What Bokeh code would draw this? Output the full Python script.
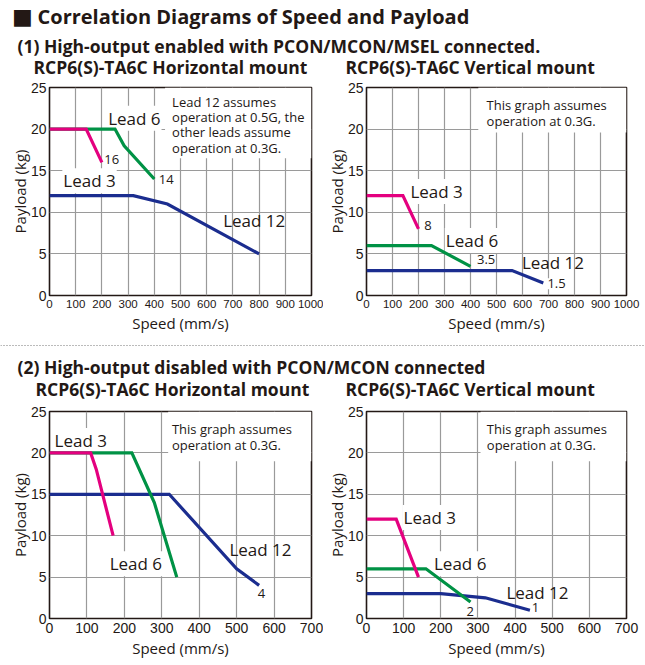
from bokeh.plotting import figure
from bokeh.layouts import column, row
from bokeh.models import Range1d, FixedTicker, Label, Span, BoxAnnotation
from bokeh.core.properties import value
from bokeh.embed import file_html
from bokeh.resources import INLINE

# ---------------- data ----------------
payload_ticks = [0, 5, 10, 15, 20, 25]
speed_ticks_hi = [0, 100, 200, 300, 400, 500, 600, 700, 800, 900, 1000]
speed_ticks_lo = [0, 100, 200, 300, 400, 500, 600, 700]

# (1) High-output enabled, horizontal mount
h1_lead3_speed = [0, 140, 200]
h1_lead3_payload = [20, 20, 16]
h1_lead6_speed = [0, 250, 285, 400]
h1_lead6_payload = [20, 20, 18, 14]
h1_lead12_speed = [0, 320, 450, 800]
h1_lead12_payload = [12, 12, 11, 5]

# (1) High-output enabled, vertical mount
v1_lead3_speed = [0, 140, 200]
v1_lead3_payload = [12, 12, 8]
v1_lead6_speed = [0, 250, 400]
v1_lead6_payload = [6, 6, 3.5]
v1_lead12_speed = [0, 560, 680]
v1_lead12_payload = [3, 3, 1.5]

# (2) High-output disabled, horizontal mount
h2_lead3_speed = [0, 110, 125, 170]
h2_lead3_payload = [20, 20, 18, 10]
h2_lead6_speed = [0, 220, 280, 340]
h2_lead6_payload = [20, 20, 14, 5]
h2_lead12_speed = [0, 320, 500, 560]
h2_lead12_payload = [15, 15, 6, 4]

# (2) High-output disabled, vertical mount
v2_lead3_speed = [0, 80, 140]
v2_lead3_payload = [12, 12, 5]
v2_lead6_speed = [0, 160, 280]
v2_lead6_payload = [6, 6, 2]
v2_lead12_speed = [0, 200, 320, 440]
v2_lead12_payload = [3, 3, 2.5, 1]

# ---------------- style ----------------
PINK = "#E4007F"
GREEN = "#009245"
BLUE = "#1B2D8F"
INK = "#231815"
GRID = "#9a9a9a"
FONT = "Open Sans"
TICK_FONT = "Liberation Sans"


def make_chart(width, height, borders, xmax, xticks, xtick_size, series, labels,
               note_lines, note_x, note_box):
    left, right, top, bottom = borders
    p = figure(width=width, height=height, x_range=Range1d(0, xmax), y_range=Range1d(0, 25),
               toolbar_location=None, output_backend="svg",
               min_border_left=left, min_border_right=right,
               min_border_top=top, min_border_bottom=bottom)
    p.outline_line_color = INK
    p.outline_line_width = 1.6
    p.xaxis.ticker = FixedTicker(ticks=xticks)
    p.yaxis.ticker = FixedTicker(ticks=payload_ticks)
    for ax in (p.xaxis, p.yaxis):
        ax.axis_line_color = None
        ax.major_tick_line_color = None
        ax.minor_tick_line_color = None
        ax.major_tick_out = 0
        ax.major_tick_in = 0
        ax.minor_tick_out = 0
        ax.minor_tick_in = 0
        ax.major_label_text_font = TICK_FONT
        ax.major_label_text_color = INK
        ax.axis_label_text_font = FONT
        ax.axis_label_text_font_size = "15px"
        ax.axis_label_text_font_style = "normal"
        ax.axis_label_text_color = INK
    p.xaxis.major_label_text_font_size = xtick_size
    p.yaxis.major_label_text_font_size = "14px"
    p.xaxis.axis_label = "Speed (mm/s)"
    p.yaxis.axis_label = "Payload (kg)"
    p.xaxis.major_label_standoff = 4
    p.yaxis.major_label_standoff = 3
    p.xaxis.axis_label_standoff = 2
    p.yaxis.axis_label_standoff = -2
    p.grid.grid_line_color = GRID
    p.grid.grid_line_width = 1.2
    p.xgrid.ticker = FixedTicker(ticks=xticks)
    p.ygrid.ticker = FixedTicker(ticks=payload_ticks)

    # white box behind the note (hides the grid only)
    p.add_layout(BoxAnnotation(left=note_box[0], bottom=note_box[1], right=xmax, top=25,
                               fill_color="white", fill_alpha=1.0, line_color=None,
                               level="underlay"))
    for (x, y, t, size, bg, align) in labels:
        p.add_layout(Label(x=x, y=y, text=t, text_font=FONT, text_font_size=size,
                           text_color=INK, text_align=align, text_baseline="middle",
                           background_fill_color=("white" if bg else None),
                           padding=1, level="underlay"))

    for xs, ys, col in series:
        p.line(xs, ys, line_color=col, line_width=3.2, line_join="miter")

    for (y, t) in note_lines:
        p.add_layout(Label(x=note_x, y=y, text=t, text_font=FONT, text_font_size="13px",
                           text_color=INK, text_align="left", text_baseline="alphabetic"))
    return p


BIG = "17px"
SMALL = "13px"
TOP_W_L, TOP_W_R = 323, 322
B_LEFT = (49, 12)
B_RIGHT = (37, 19)

fA = make_chart(TOP_W_L, 259, B_LEFT + (9, 42), 1000, speed_ticks_hi, "11.5px",
                [(h1_lead12_speed, h1_lead12_payload, BLUE),
                 (h1_lead6_speed, h1_lead6_payload, GREEN),
                 (h1_lead3_speed, h1_lead3_payload, PINK)],
                [(220, 21.3, "Lead 6", BIG, True, "left"),
                 (205, 16.3, "16", SMALL, True, "left"),
                 (413, 13.9, "14", SMALL, True, "left"),
                 (49, 13.8, "Lead 3", BIG, True, "left"),
                 (659, 9.0, "Lead 12", BIG, False, "left")],
                [(23.2, "Lead 12 assumes"), (21.4, "operation at 0.5G, the"),
                 (19.6, "other leads assume"), (17.75, "operation at 0.3G.")],
                468, (441, 16.5))

fB = make_chart(TOP_W_R, 259, B_RIGHT + (9, 42), 1000, speed_ticks_hi, "11.5px",
                [(v1_lead12_speed, v1_lead12_payload, BLUE),
                 (v1_lead6_speed, v1_lead6_payload, GREEN),
                 (v1_lead3_speed, v1_lead3_payload, PINK)],
                [(165, 12.5, "Lead 3", BIG, True, "left"),
                 (218, 8.4, "8", SMALL, True, "left"),
                 (301, 6.6, "Lead 6", BIG, True, "left"),
                 (421, 4.3, "3.5", SMALL, False, "left"),
                 (594, 4.0, "Lead 12", BIG, False, "left"),
                 (692, 1.4, "1.5", SMALL, True, "left")],
                [(22.9, "This graph assumes"), (21.0, "operation at 0.3G.")],
                462, (430, 19.6))

fC = make_chart(TOP_W_L, 265, B_LEFT + (11, 47), 700, speed_ticks_lo, "14px",
                [(h2_lead12_speed, h2_lead12_payload, BLUE),
                 (h2_lead6_speed, h2_lead6_payload, GREEN),
                 (h2_lead3_speed, h2_lead3_payload, PINK)],
                [(11, 21.5, "Lead 3", BIG, True, "left"),
                 (158, 6.6, "Lead 6", BIG, True, "left"),
                 (478, 8.3, "Lead 12", BIG, False, "left"),
                 (566, 3.0, "4", SMALL, True, "center")],
                [(22.85, "This graph assumes"), (21.0, "operation at 0.3G.")],
                327, (317, 19.0))

fD = make_chart(TOP_W_R, 265, B_RIGHT + (11, 47), 700, speed_ticks_lo, "14px",
                [(v2_lead12_speed, v2_lead12_payload, BLUE),
                 (v2_lead6_speed, v2_lead6_payload, GREEN),
                 (v2_lead3_speed, v2_lead3_payload, PINK)],
                [(97, 12.2, "Lead 3", BIG, True, "left"),
                 (179, 6.6, "Lead 6", BIG, True, "left"),
                 (374, 3.2, "Lead 12", BIG, False, "left"),
                 (279, 0.9, "2", SMALL, True, "center"),
                 (455, 1.3, "1", SMALL, True, "center")],
                [(22.85, "This graph assumes"), (21.0, "operation at 0.3G.")],
                324, (307, 19.0))


def text_fig(top, bottom):
    p = figure(width=645, height=bottom - top, x_range=Range1d(0, 645),
               y_range=Range1d(bottom, top),
               toolbar_location=None, output_backend="svg", min_border=0)
    p.axis.visible = False
    p.grid.visible = False
    p.outline_line_color = None
    return p


HEAD = dict(text_font=value(FONT), text_font_style="bold", text_color=INK,
            text_baseline="middle")

header = text_fig(0, 78)
header.text(x=[22], y=[15.5], text=["■"], text_font=value("DejaVu Sans"), text_font_size="22px",
            text_color=INK, text_baseline="middle", text_align="center")
header.text(x=[37], y=[16], text=["Correlation Diagrams of Speed and Payload"],
            text_font_size="20px", **HEAD)
header.text(x=[17], y=[45], text=["(1) High-output enabled with PCON/MCON/MSEL connected."],
            text_font_size="17.5px", **HEAD)
header.text(x=[33, 345], y=[66, 66],
            text=["RCP6(S)-TA6C Horizontal mount", "RCP6(S)-TA6C Vertical mount"],
            text_font_size="17.5px", **HEAD)

sep = text_fig(337, 400)
sep.add_layout(Span(location=345, dimension="width", line_color="#777777",
                    line_width=1, line_dash="1 2"))
sep.text(x=[17], y=[366], text=["(2) High-output disabled with PCON/MCON connected"],
         text_font_size="17.5px", **HEAD)
sep.text(x=[35, 345], y=[388, 388],
         text=["RCP6(S)-TA6C Horizontal mount", "RCP6(S)-TA6C Vertical mount"],
         text_font_size="17.5px", **HEAD)

layout = column(header, row(fA, fB), sep, row(fC, fD))

open("out.html", "w").write(file_html(layout, INLINE))
